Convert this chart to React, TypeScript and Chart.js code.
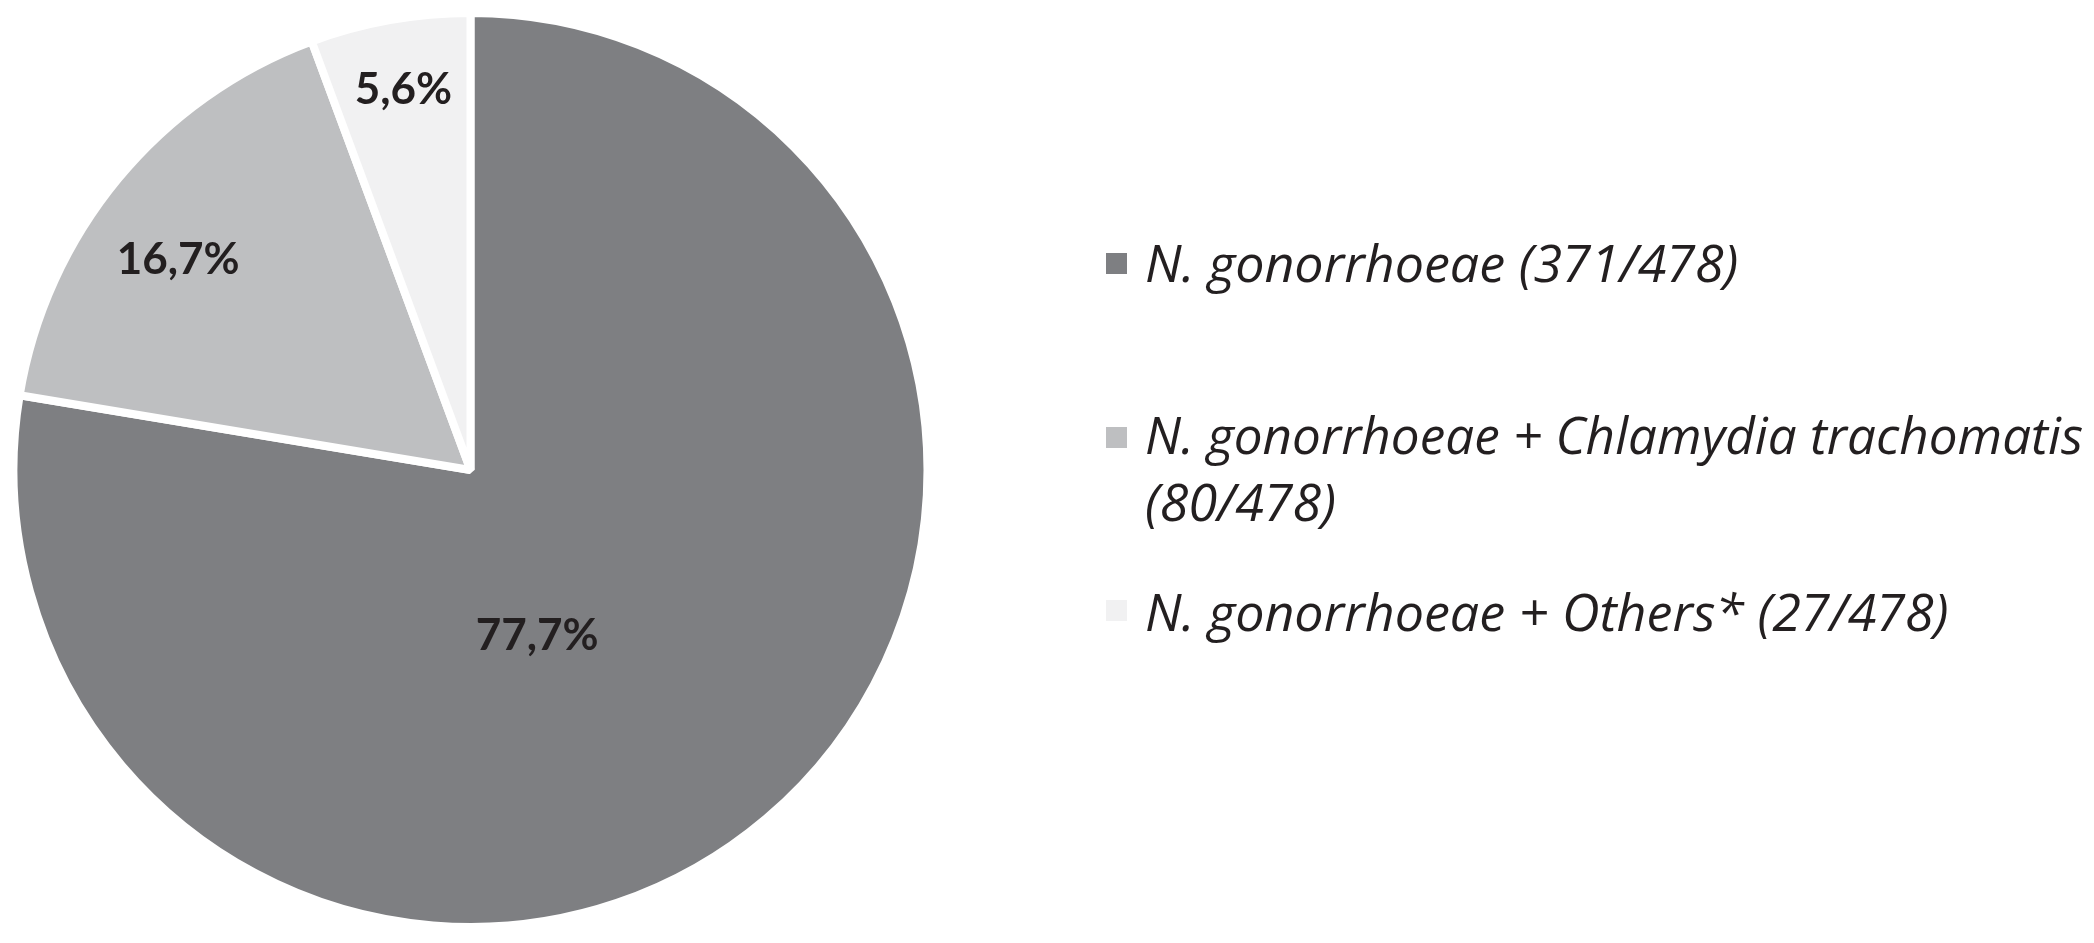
import React, { useEffect, useRef } from 'react';
import { Chart, registerables } from 'chart.js';

Chart.register(...registerables);

// ---- data ----
const categories = [
  'N. gonorrhoeae (371/478)',
  'N. gonorrhoeae + Chlamydia trachomatis (80/478)',
  'N. gonorrhoeae + Others* (27/478)',
];
const legendLines = [
  ['N. gonorrhoeae (371/478)'],
  ['N. gonorrhoeae + Chlamydia trachomatis', '(80/478)'],
  ['N. gonorrhoeae + Others* (27/478)'],
];
const counts = [371, 80, 27];
const percentLabels = ['77,7%', '16,7%', '5,6%'];
const sliceColors = ['#7e7f82', '#bebfc1', '#f1f1f2'];
// label placement inside each slice: [fraction of slice angle, fraction of radius]
const labelPlacement = [
  [0.565, 0.387],
  [0.44, 0.79],
  [0.51, 0.849],
];

const W = 2094;
const H = 943;

const labelsPlugin = {
  id: 'customLabels',
  afterDraw(chart: any) {
    const ctx = chart.ctx;
    const meta = chart.getDatasetMeta(0);
    ctx.save();
    // slice percentage labels
    ctx.fillStyle = '#231f20';
    ctx.font = 'bold 44px Lato';
    ctx.textAlign = 'center';
    ctx.textBaseline = 'alphabetic';
    meta.data.forEach((arc: any, i: number) => {
      const p = arc.getProps(['x', 'y', 'startAngle', 'endAngle', 'outerRadius'], true);
      const [af, rf] = labelPlacement[i];
      const ang = p.startAngle + (p.endAngle - p.startAngle) * af;
      const r = p.outerRadius * rf;
      const cx = p.x + Math.cos(ang) * r;
      const cy = p.y + Math.sin(ang) * r;
      ctx.fillText(percentLabels[i], cx, cy + 16);
    });
    // legend
    const legX = 1106;
    const boxSize = 21;
    const textX = 1145;
    const maxTextWidth = 938;
    const rowBaselines = [[282], [454, 521], [631]];
    const boxCenters = [263.5, 437.5, 610.5];
    ctx.textAlign = 'left';
    ctx.font = 'italic 52px "Open Sans"';
    legendLines.forEach((lines, i) => {
      ctx.fillStyle = sliceColors[i];
      ctx.fillRect(legX, boxCenters[i] - boxSize / 2, boxSize, boxSize);
      ctx.fillStyle = '#231f20';
      lines.forEach((t, j) => {
        ctx.fillText(t, textX, rowBaselines[i][j], maxTextWidth);
      });
    });
    ctx.restore();
  },
};

export default function App() {
  const ref = useRef<HTMLCanvasElement | null>(null);
  useEffect(() => {
    if (!ref.current) return;
    const chart = new Chart(ref.current, {
      type: 'pie',
      data: {
        labels: categories,
        datasets: [
          {
            data: counts,
            backgroundColor: sliceColors,
            borderColor: '#ffffff',
            borderWidth: 8,
          },
        ],
      },
      options: {
        responsive: false,
        animation: false,
        devicePixelRatio: 1,
        radius: 457,
        layout: { padding: { left: 0, top: 0, right: W - 941, bottom: H - 940 } },
        plugins: {
          legend: { display: false },
          tooltip: { enabled: false },
        },
      } as any,
      plugins: [labelsPlugin],
    });
    return () => chart.destroy();
  }, []);
  return (
    <div style={{ position: 'fixed', left: 0, top: 0, width: W, height: H, background: '#fff' }}>
      <canvas ref={ref} width={W} height={H} />
    </div>
  );
}
